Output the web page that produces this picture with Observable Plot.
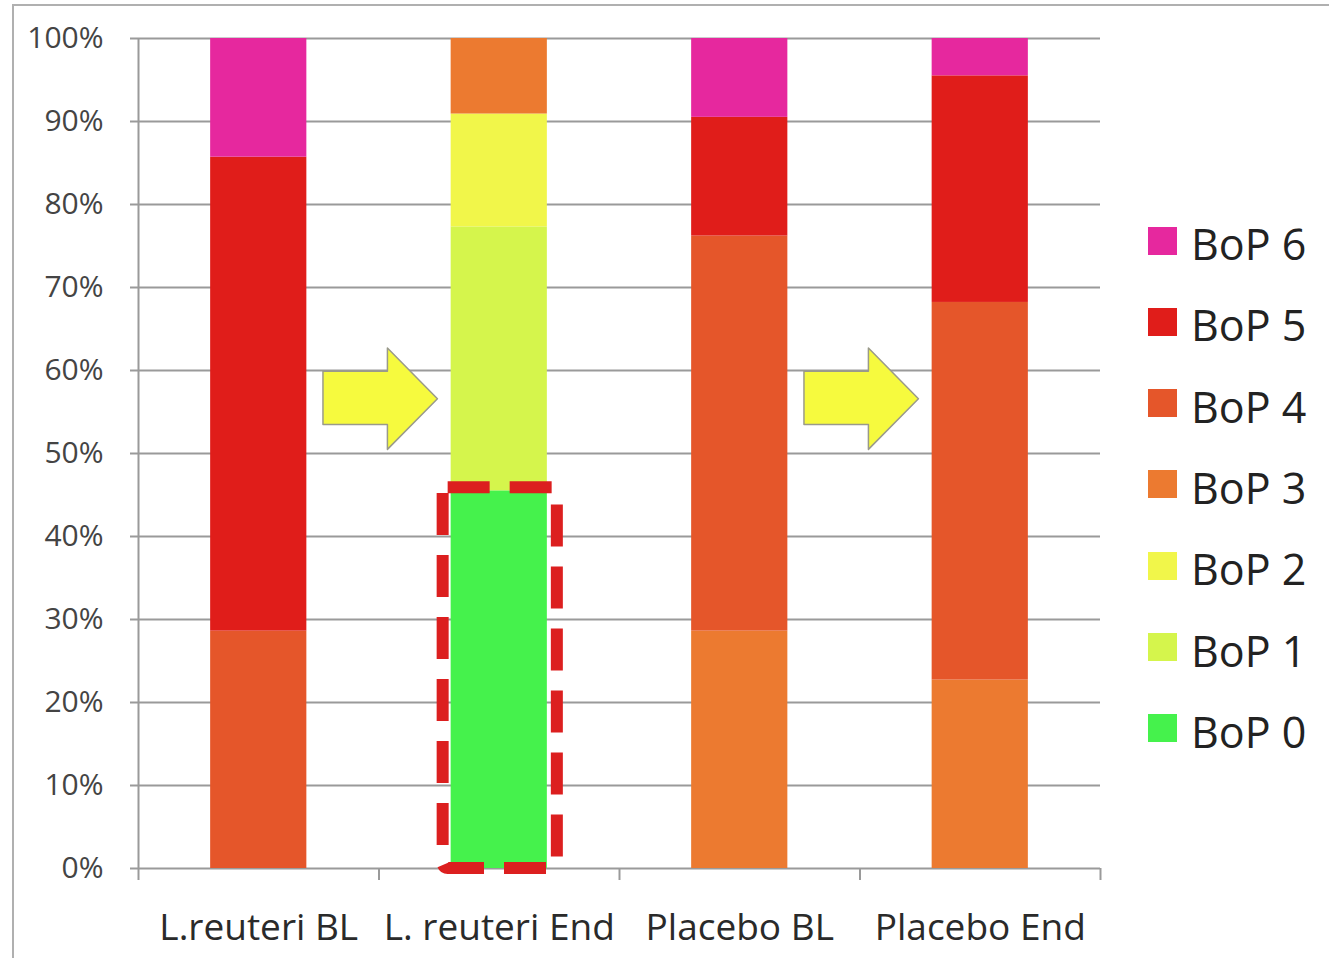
<!DOCTYPE html>
<html>
<head>
<meta charset="utf-8">
<script src="https://cdn.jsdelivr.net/npm/d3@7"></script>
<script src="https://cdn.jsdelivr.net/npm/@observablehq/plot@0.6"></script>
<style>
  html, body { margin: 0; padding: 0; background: #fff; }
  #wrap { position: relative; width: 1329px; height: 958px; overflow: hidden; font-family: "Open Sans", sans-serif; }
  #frame { position: absolute; left: 12px; top: 4px; right: -10px; bottom: -10px; border-top: 2px solid #b0b0b0; border-left: 2px solid #b0b0b0; }
  #chart { position: absolute; left: 0; top: 0; }
  #legend { position: absolute; left: 1148px; top: 0; }
  .item { position: absolute; left: 0; display: flex; align-items: center; white-space: nowrap; }
  .sw { width: 29px; height: 28px; margin-right: 14px; margin-top: -6px; }
  .lab { font-size: 43px; color: #222; line-height: 1; }
</style>
</head>
<body>
<div id="wrap">
  <div id="frame"></div>
  <div id="chart"></div>
  <div id="legend"></div>
</div>
<script>
// ---- data ----
const groups = ["L.reuteri BL", "L. reuteri End", "Placebo BL", "Placebo End"];
const categories = ["BoP 0", "BoP 1", "BoP 2", "BoP 3", "BoP 4", "BoP 5", "BoP 6"];
const colors = ["#45f24c", "#d5f54c", "#f1f64a", "#ec7a30", "#e5562a", "#e01d1a", "#e6289e"];
// percent of subjects per group for each category
const bop0 = [0, 45.5, 0, 0];
const bop1 = [0, 31.8, 0, 0];
const bop2 = [0, 13.6, 0, 0];
const bop3 = [0, 9.1, 28.6, 22.7];
const bop4 = [28.6, 0, 47.6, 45.5];
const bop5 = [57.1, 0, 14.3, 27.3];
const bop6 = [14.3, 0, 9.5, 4.5];
const yTicks = [0, 10, 20, 30, 40, 50, 60, 70, 80, 90, 100];
const highlight = {group: "L. reuteri End", category: "BoP 0"};
const arrowPairs = [["L.reuteri BL", "L. reuteri End"], ["Placebo BL", "Placebo End"]];
// arrow outline relative to the midpoint between two bars (dx in band units, y in %)
const arrowDx = [-0.233, -0.233, 0.035, 0.035, 0.243, 0.035, 0.035, -0.233];
const arrowY  = [53.5, 59.9, 59.9, 62.7, 56.6, 50.5, 53.5, 53.5];

// ---- build table ----
const series = [bop0, bop1, bop2, bop3, bop4, bop5, bop6];
const rows = [];
groups.forEach((g, gi) => {
  let acc = 0;
  categories.forEach((c, ci) => {
    const v = series[ci][gi];
    if (v > 0) rows.push({group: g, gi, category: c, y1: acc, y2: acc + v});
    acc += v;
  });
});
const half = 0.2;
const hl = rows.filter(r => r.group === highlight.group && r.category === highlight.category);
const arrowRows = [];
arrowPairs.forEach(([a, b], k) => {
  const mid = (groups.indexOf(a) + groups.indexOf(b)) / 2;
  arrowDx.forEach((dx, i) => arrowRows.push({k, x: mid + dx, y: arrowY[i]}));
});

const plot = Plot.plot({
  width: 1329,
  height: 958,
  marginLeft: 138,
  marginRight: 229,
  marginTop: 38,
  marginBottom: 90,
  style: {fontFamily: "'Open Sans', sans-serif", background: "transparent", overflow: "visible"},
  x: {domain: [-0.5, groups.length - 0.5], axis: null},
  y: {domain: [0, 100], axis: null},
  color: {domain: categories, range: colors},
  marks: [
    Plot.ruleY(yTicks, {x1: -0.5, x2: groups.length - 0.5, stroke: "#9a9a9a", strokeWidth: 2, insetLeft: -8}),
    Plot.ruleX([-0.5], {y1: 0, y2: 100, stroke: "#9a9a9a", strokeWidth: 2}),
    Plot.axisY({ticks: yTicks, tickFormat: d => d + "%", tickSize: 0, tickPadding: 35, fontSize: 30, color: "#444", label: null}),
    Plot.axisX({ticks: d3.range(groups.length + 1).map(i => i - 0.5), tickFormat: () => "", tickSize: 12, stroke: "#9a9a9a", strokeWidth: 2, label: null}),
    Plot.axisX({ticks: d3.range(groups.length), tickFormat: i => groups[i], tickSize: 0, tickPadding: 45, fontSize: 37, color: "#2a2a2a", label: null}),
    Plot.rect(rows, {x1: d => d.gi - half, x2: d => d.gi + half, y1: "y1", y2: "y2", fill: "category"}),
    Plot.line(arrowRows, {x: "x", y: "y", z: "k", fill: "#f6fa3e", stroke: "#9a9a8a", strokeWidth: 1.5, curve: "linear"}),
    Plot.rect(hl, {x1: d => d.gi - half, x2: d => d.gi + half, y1: "y1", y2: "y2",
      fill: "none", stroke: "#dc1f1f", strokeWidth: 12, strokeDasharray: "42,20", rx: 5,
      insetLeft: -8, insetRight: -10, insetTop: -3, insetBottom: 0})
  ]
});
document.getElementById("chart").appendChild(plot);

// legend (HTML, on the right)
const legend = document.getElementById("legend");
const order = categories.slice().reverse();
order.forEach((c, i) => {
  const div = document.createElement("div");
  div.className = "item";
  div.style.top = (246 + i * 81.3 - 24) + "px";
  div.innerHTML = `<span class="sw" style="background:${colors[categories.indexOf(c)]}"></span><span class="lab">${c}</span>`;
  legend.appendChild(div);
});
</script>
</body>
</html>
